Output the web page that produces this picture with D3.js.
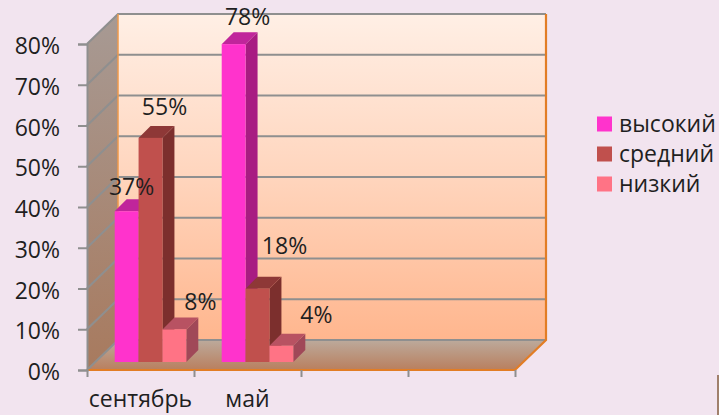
<!DOCTYPE html>
<html>
<head>
<meta charset="utf-8">
<script src="https://cdn.jsdelivr.net/npm/d3@7"></script>
<style>
    html, body { margin: 0; padding: 0; background: #f2e4ef; overflow: hidden; }
    text { font-family: "Open Sans", sans-serif; fill: #1f1f1f; }
</style>
</head>
<body>
<div id="chart"></div>
<script>
var categories = ["сентябрь", "май", "c3", "c4"];
var seriesNames = ["высокий", "средний", "низкий"];
var high = [37, 78];
var medium = [55, 18];
var low = [8, 4];
var yTicks = [0, 10, 20, 30, 40, 50, 60, 70, 80];

var svgWidth = 719;
var svgHeight = 415;

// chart box: front plane of the 3d "room", the back wall is shifted by depth
var plot = { left: 87, right: 515, top: 44, bottom: 370 };
var depth = { x: 31, y: -30 };
var barDepth = { x: 12, y: -12 };
var floorShift = { x: 10, y: -8 };
var fontSize = "23px";

var colors = [
    { front: "#ff33cc", side: "#a81c82", top: "#c0259b" },
    { front: "#c0504d", side: "#7c2f2d", top: "#8e3837" },
    { front: "#ff7385", side: "#a04858", top: "#b85262" }
];

// label shift from the bar top, per series per category
var labelNudge = [
    [[5, -16], [14, -19]],
    [[14, -23], [27, -35]],
    [[26, -19], [35, -23]]
];

var svg = d3.select("#chart")
    .append("svg")
    .attr("width", svgWidth)
    .attr("height", svgHeight);

var xBand = d3.scaleBand()
    .domain(categories)
    .range([plot.left, plot.right]);

var xEdges = d3.scaleLinear()
    .domain([0, categories.length])
    .range([plot.left, plot.right]);

var yScale = d3.scaleLinear()
    .domain([0, 80])
    .range([plot.bottom, plot.top]);

var barWidth = xBand.bandwidth() * 0.223;

var defs = svg.append("defs");

function addGradient(id, stops) {
    var g = defs.append("linearGradient")
        .attr("id", id)
        .attr("x1", 0).attr("y1", 0)
        .attr("x2", 0).attr("y2", 1);
    stops.forEach(function (s) {
        g.append("stop").attr("offset", s[0]).attr("stop-color", s[1]);
    });
}
addGradient("wallGrad", [[0, "#ffefe5"], [0.5, "#ffd5bd"], [1, "#ffb68e"]]);
addGradient("sideGrad", [[0, "#a79a94"], [1, "#a87a5e"]]);
addGradient("floorGrad", [[0, "#bcaa9c"], [1, "#b97f5e"]]);

// page edge strip at the bottom right
svg.append("rect")
    .attr("x", 717).attr("y", 375)
    .attr("width", 2).attr("height", 40)
    .attr("fill", "#a0806c");

function pts(list) {
    return list.map(function (p) { return p.join(","); }).join(" ");
}

var L = plot.left, R = plot.right, T = plot.top, B = plot.bottom;

// walls
svg.append("polygon")
    .attr("points", pts([[L + depth.x, T + depth.y], [R + depth.x, T + depth.y], [R + depth.x, B + depth.y], [L + depth.x, B + depth.y]]))
    .attr("fill", "url(#wallGrad)");
svg.append("polygon")
    .attr("points", pts([[L, T], [L + depth.x, T + depth.y], [L + depth.x, B + depth.y], [L, B]]))
    .attr("fill", "url(#sideGrad)");
svg.append("polygon")
    .attr("points", pts([[L, B], [L + depth.x, B + depth.y], [R + depth.x, B + depth.y], [R, B]]))
    .attr("fill", "url(#floorGrad)");

// gridlines, back wall plus the diagonal on the side wall
var grid = svg.append("g");
yTicks.forEach(function (t) {
    var y = yScale(t);
    grid.append("polyline")
        .attr("points", pts([[L, y], [L + depth.x, y + depth.y], [R + depth.x, y + depth.y]]))
        .attr("fill", "none")
        .attr("stroke", "#8f8f8f")
        .attr("stroke-width", 2.2);
});

// orange edges
var edgeColor = "#e27d25";
svg.append("line")
    .attr("x1", L + depth.x).attr("x2", L + depth.x)
    .attr("y1", T + depth.y).attr("y2", B + depth.y)
    .attr("stroke", "#ee9a4c").attr("stroke-width", 1.5);
svg.append("polyline")
    .attr("points", pts([[R + depth.x, T + depth.y], [R + depth.x, B + depth.y], [R, B], [L, B]]))
    .attr("fill", "none")
    .attr("stroke", edgeColor)
    .attr("stroke-width", 2.2);

// axes
var yAxis = d3.axisLeft(yScale)
    .tickValues(yTicks)
    .tickSize(9)
    .tickPadding(18)
    .tickFormat(function (d) { return d + "%"; });

var yG = svg.append("g")
    .attr("transform", "translate(" + L + ",0)")
    .call(yAxis);
yG.select(".domain").attr("stroke", "#8f8f8f").attr("stroke-width", 2);
yG.selectAll("line").attr("stroke", "#8f8f8f").attr("stroke-width", 2);
yG.selectAll("text")
    .attr("dy", "0.42em")
    .style("font-size", fontSize)
    .style("font-family", "'Open Sans', sans-serif")
    .attr("fill", "#1f1f1f");

var xTickG = svg.append("g")
    .attr("transform", "translate(0," + B + ")")
    .call(d3.axisBottom(xEdges).ticks(categories.length).tickSize(7).tickFormat(""));
xTickG.select(".domain").remove();
xTickG.selectAll("line").attr("stroke", "#8f8f8f").attr("stroke-width", 2);

var xLabelG = svg.append("g")
    .attr("transform", "translate(0," + B + ")")
    .call(d3.axisBottom(xBand).tickSize(0).tickPadding(21)
        .tickValues(categories.slice(0, 2)));
xLabelG.select(".domain").remove();
xLabelG.selectAll("text")
    .style("font-size", fontSize)
    .style("font-family", "'Open Sans', sans-serif")
    .attr("fill", "#1f1f1f");

// bars, one series at a time left to right so the neighbour covers the side face
var seriesValues = [high, medium, low];
var bars = svg.append("g");
var labels = [];

seriesValues.forEach(function (values, s) {
    values.forEach(function (v, c) {
        var cx = xBand(categories[c]) + xBand.bandwidth() / 2 + floorShift.x;
        var x0 = cx + (s - 1.5) * barWidth;
        var x1 = x0 + barWidth;
        var yBase = yScale(0) + floorShift.y;
        var yTop = yBase - (yScale(0) - yScale(v));
        var dx = barDepth.x, dy = barDepth.y;

        bars.append("polygon")
            .attr("points", pts([[x1, yTop], [x1 + dx, yTop + dy], [x1 + dx, yBase + dy], [x1, yBase]]))
            .attr("fill", colors[s].side);
        bars.append("polygon")
            .attr("points", pts([[x0, yTop], [x0 + dx, yTop + dy], [x1 + dx, yTop + dy], [x1, yTop]]))
            .attr("fill", colors[s].top);
        bars.append("rect")
            .attr("x", x0).attr("y", yTop)
            .attr("width", barWidth).attr("height", yBase - yTop)
            .attr("fill", colors[s].front);

        labels.push({
            x: (x0 + x1) / 2 + labelNudge[s][c][0],
            y: yTop + labelNudge[s][c][1],
            text: v + "%"
        });
    });
});

svg.append("g").selectAll("text")
    .data(labels)
    .enter()
    .append("text")
    .attr("x", d => d.x)
    .attr("y", d => d.y)
    .attr("text-anchor", "middle")
    .style("font-size", fontSize)
    .text(d => d.text);

// legend
var legendY = d3.scalePoint()
    .domain(seriesNames)
    .range([124, 184]);

var legend = svg.append("g").selectAll("g")
    .data(seriesNames)
    .enter()
    .append("g")
    .attr("transform", d => "translate(597," + legendY(d) + ")");

legend.append("rect")
    .attr("y", -7.5)
    .attr("width", 15)
    .attr("height", 15)
    .attr("fill", (d, i) => colors[i].front);

legend.append("text")
    .attr("x", 22)
    .attr("y", 8)
    .style("font-size", fontSize)
    .text(d => d);
</script>
</body>
</html>
